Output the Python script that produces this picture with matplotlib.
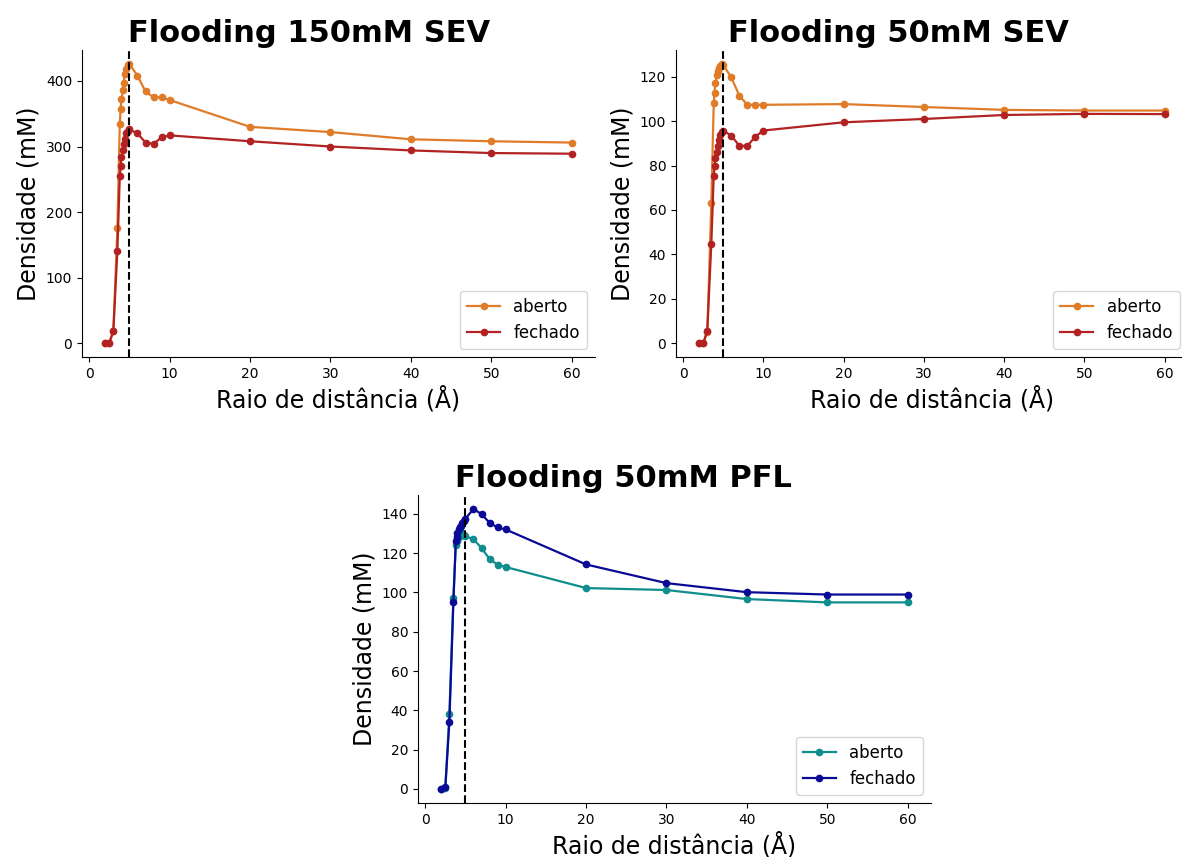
import numpy as np
import matplotlib.pyplot as plt

# Raios (Å)
raios = [2, 2.5, 3, 3.5, 3.8, 3.9, 4.0, 4.2, 4.3, 4.4, 4.6, 4.8, 5.0,
         6, 7, 8, 9, 10, 20, 30, 40, 50, 60]

# Flooding 150mM SEV
sev150_aberto = [0, 0, 18, 176, 335, 357, 372, 386, 397, 410, 419, 425, 426,
                 408, 384, 375, 375, 371, 330, 322, 311, 308, 306]
sev150_fechado = [0, 0, 19, 141, 255, 270, 284, 295, 304, 312, 320, 324, 326,
                  320, 306, 304, 314, 317, 308, 300, 294, 290, 289]

# Flooding 50mM SEV
sev50_aberto = [0, 0, 5, 63, 108, 112.6, 117, 121, 122.4, 124, 125, 125.8, 125.3,
                119.7, 111.4, 107.4, 107.4, 107.4, 107.7, 106.4, 105.1, 104.8, 104.8]
sev50_fechado = [0, 0, 5.5, 44.7, 75.5, 79.6, 83.3, 86.3, 88.6, 91.6, 93.8, 95, 95.8,
                 93.4, 88.9, 88.9, 93.1, 95.8, 99.5, 101, 102.8, 103.3, 103.2]

# Flooding 50mM PFL
pfl50_aberto = [0, 0.5, 38, 97, 124, 126, 127, 128, 129, 130, 130, 129, 128.5,
                127.1, 122.5, 117, 114, 112.9, 102.2, 101.2, 96.6, 94.9, 94.9]
pfl50_fechado = [0, 1, 34, 95, 126, 128, 130, 132, 133, 134, 135.5, 136.5, 137.5,
                 142.4, 139.8, 135.4, 133, 132, 114.2, 104.7, 100.1, 98.9, 98.9]

W, H = 1182, 857


def painel(rect, titulo, tx, aberto, fechado, cores):
    l, t, w, h = rect
    ax = fig.add_axes([l / W, 1 - (t + h) / H, w / W, h / H])
    ax.plot(raios, aberto, '-o', color=cores[0], markersize=4.5, linewidth=1.6, label='aberto')
    ax.plot(raios, fechado, '-o', color=cores[1], markersize=4.5, linewidth=1.6, label='fechado')
    ax.axvline(5, color='black', linestyle='--', linewidth=1.5)
    ax.set_title(titulo, fontsize=22, fontweight='bold', x=tx)
    ax.set_xlabel('Raio de distância (Å)', fontsize=17)
    ax.set_ylabel('Densidade (mM)', fontsize=17)
    ax.set_xticks([0, 10, 20, 30, 40, 50, 60])
    ax.spines['top'].set_visible(False)
    ax.spines['right'].set_visible(False)
    ax.legend(loc='lower right', fontsize=12)
    return ax


fig = plt.figure(figsize=(W / 100, H / 100), dpi=100)

painel((82, 50, 513, 307), 'Flooding 150mM SEV', 0.443,
       sev150_aberto, sev150_fechado, ('#e07b28', '#b22222'))
ax2 = painel((676, 50, 512, 307), 'Flooding 50mM SEV', 0.434,
             sev50_aberto, sev50_fechado, ('#e07b28', '#b22222'))
ax2.set_yticks([0, 20, 40, 60, 80, 100, 120])
ax3 = painel((418, 495, 513, 308), 'Flooding 50mM PFL', 0.40,
             pfl50_aberto, pfl50_fechado, ('#108e8e', '#0a0a96'))
ax3.set_yticks([0, 20, 40, 60, 80, 100, 120, 140])

fig.savefig('out.png', dpi=100)
